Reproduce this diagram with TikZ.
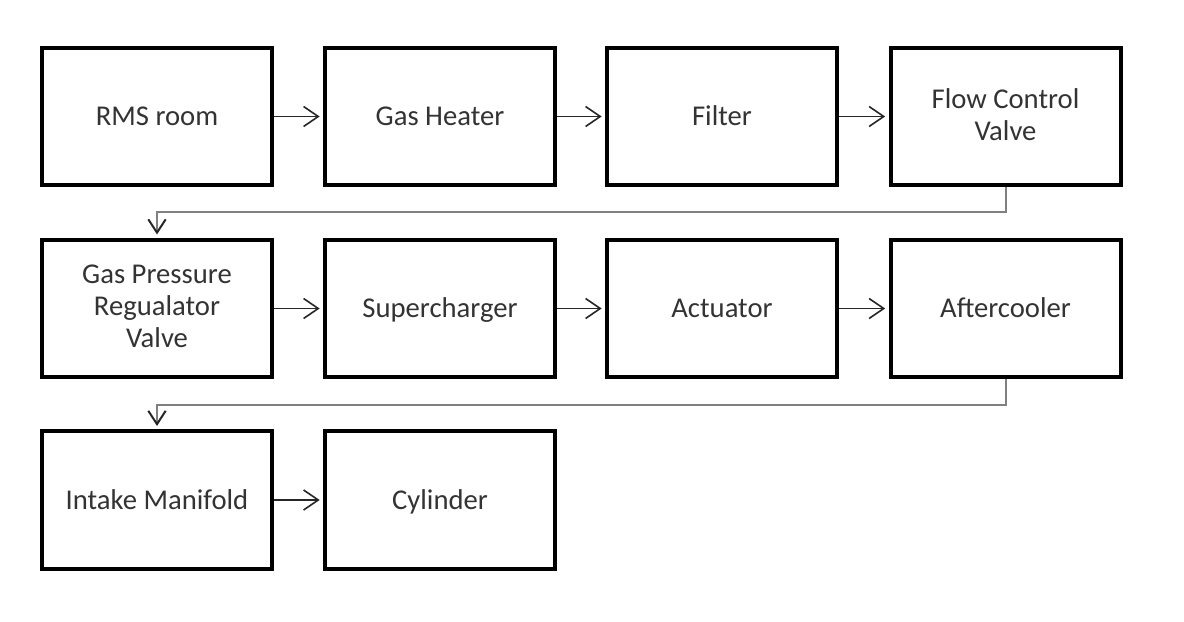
\documentclass[tikz,border=0pt]{standalone}
\usepackage{fontspec}
\setmainfont{Carlito}
\usetikzlibrary{arrows.meta}
\newcommand\blkstrut{\rule[-3.5pt]{0pt}{21pt}}

\begin{document}
\begin{tikzpicture}[x=0.75pt,y=-0.75pt,
  blk/.style={draw=black, line width=3pt, minimum width=172.5pt, minimum height=103pt,
    align=center, text=black!80, font=\fontsize{21.5pt}{24pt}\selectfont,
    execute at begin node=\blkstrut, execute at end node=\blkstrut},
  flow/.style={draw=black!85, line width=1.2pt, shorten >=2.5pt,
    -{Straight Barb[length=11pt,width=15pt]}},
  wrap/.style={draw=black!50, line width=1.5pt, shorten >=2.5pt,
    -{Straight Barb[length=10pt,width=13pt,color=black!85]}}]

\useasboundingbox (0,0) rectangle (1184,621);

\node[blk] (rms) at (157,116.5) {RMS room};
\node[blk] (heater) at (440,116.5) {Gas Heater};
\node[blk] (filter) at (722,116.5) {Filter};
\node[blk] (fcv) at (1005.5,116.5) {Flow Control\\Valve};

\node[blk] (gprv) at (157,308.5) {Gas Pressure\\Regualator\\Valve};
\node[blk] (sc) at (440,308.5) {Supercharger};
\node[blk] (act) at (722,308.5) {Actuator};
\node[blk] (ac) at (1005.5,308.5) {Aftercooler};

\node[blk] (im) at (157,500) {Intake Manifold};
\node[blk] (cyl) at (440,500) {Cylinder};

\draw[flow] (rms) -- (heater);
\draw[flow] (heater) -- (filter);
\draw[flow] (filter) -- (fcv);
\draw[wrap] (fcv.south) -- ++(0,25) -| (gprv.north);
\draw[flow] (gprv) -- (sc);
\draw[flow] (sc) -- (act);
\draw[flow] (act) -- (ac);
\draw[wrap] (ac.south) -- ++(0,26) -| (im.north);
\draw[flow] (im) -- (cyl);

\end{tikzpicture}
\end{document}
